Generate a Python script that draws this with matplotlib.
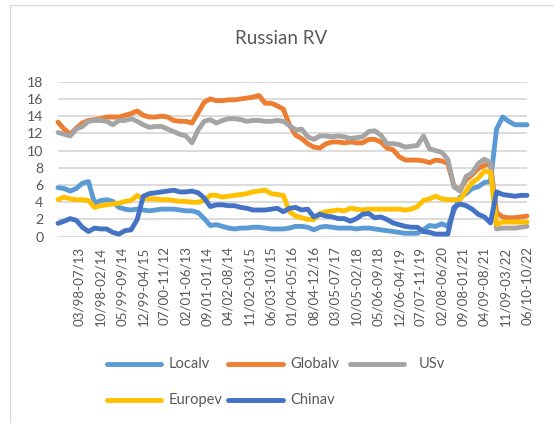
import numpy as np
import matplotlib
matplotlib.use("Agg")
import matplotlib.pyplot as plt
from matplotlib.lines import Line2D

# Rolling-window category labels (one label every 7 monthly windows)
window_labels = [
    "03/98-07/13", "10/98-02/14", "05/99-09/14", "12/99-04/15", "07/00-11/12",
    "02/01-06/13", "09/01-01/14", "04/02-08/14", "11/02-03/15", "06/03-10/15",
    "01/04-05/16", "08/04-12/16", "03/05-07/17", "10/05-02/18", "05/06-09/18",
    "12/06-04/19", "07/07-11/19", "02/08-06/20", "09/08-01/21", "04/09-08/21",
    "11/09-03/22", "06/10-10/22",
]

# Volatility series, sampled every second window
localv = [
    5.7, 5.6, 5.3, 5.6, 6.2, 6.4, 3.9, 4.2, 4.3, 4.1, 3.4, 3.2, 3.1, 3.2, 3.1, 3.0,
    3.1, 3.2, 3.2, 3.2, 3.1, 3.0, 3.0, 2.8, 2.1, 1.3, 1.4, 1.2, 1.0, 0.9, 1.0, 1.0,
    1.1, 1.1, 1.0, 0.9, 0.9, 0.9, 1.0, 1.2, 1.2, 1.1, 0.8, 1.1, 1.2, 1.1, 1.0, 1.0,
    1.0, 0.9, 1.0, 1.0, 0.9, 0.8, 0.7, 0.6, 0.5, 0.4, 0.4, 0.4, 0.8, 1.3, 1.2, 1.5,
    1.2, 3.0, 4.6, 5.0, 5.6, 5.8, 6.3, 6.4, 12.5, 13.9, 13.4, 13.0, 13.0, 13.0,
]
globalv = [
    13.3, 12.5, 11.9, 12.6, 13.2, 13.5, 13.6, 13.7, 13.9, 13.9, 13.9, 14.1, 14.3, 14.6, 14.1, 13.9,
    13.9, 14.0, 13.9, 13.5, 13.4, 13.4, 13.2, 14.4, 15.6, 16.0, 15.8, 15.8, 15.9, 15.9, 16.0, 16.1,
    16.2, 16.4, 15.5, 15.5, 15.2, 14.8, 13.0, 11.8, 11.4, 10.8, 10.4, 10.3, 10.8, 11.0, 11.0, 10.9,
    11.0, 10.9, 10.9, 11.3, 11.3, 11.0, 10.3, 10.1, 9.3, 8.9, 8.9, 8.9, 8.8, 8.6, 8.9, 8.8,
    8.5, 5.9, 5.4, 6.6, 7.2, 7.9, 8.3, 8.5, 2.8, 2.3, 2.2, 2.2, 2.3, 2.4,
]
usv = [
    12.1, 11.9, 11.7, 12.5, 12.8, 13.4, 13.5, 13.5, 13.4, 13.0, 13.5, 13.5, 13.7, 13.4, 13.0, 12.7,
    12.8, 12.8, 12.5, 12.2, 11.9, 11.7, 10.9, 12.4, 13.4, 13.6, 13.2, 13.5, 13.7, 13.7, 13.6, 13.4,
    13.5, 13.5, 13.4, 13.4, 13.5, 13.4, 12.9, 12.4, 12.5, 11.6, 11.3, 11.7, 11.7, 11.6, 11.7, 11.6,
    11.4, 11.5, 11.6, 12.2, 12.3, 11.8, 10.8, 10.8, 10.7, 10.4, 10.5, 10.6, 11.7, 10.2, 10.0, 9.8,
    9.0, 5.8, 5.3, 7.0, 7.4, 8.5, 9.0, 8.6, 0.9, 1.0, 1.0, 1.0, 1.1, 1.2,
]
europev = [
    4.3, 4.6, 4.4, 4.3, 4.3, 4.2, 3.4, 3.6, 3.7, 3.8, 3.9, 4.1, 4.2, 4.8, 4.4, 4.4,
    4.4, 4.3, 4.3, 4.2, 4.1, 4.1, 4.0, 4.0, 4.2, 4.8, 4.8, 4.6, 4.7, 4.8, 4.9, 5.0,
    5.2, 5.3, 5.4, 5.0, 4.9, 4.8, 2.9, 2.4, 2.2, 2.0, 2.0, 2.7, 2.9, 3.0, 3.1, 3.0,
    3.3, 3.2, 3.1, 3.2, 3.2, 3.2, 3.2, 3.2, 3.2, 3.1, 3.2, 3.5, 4.2, 4.4, 4.7, 4.4,
    4.3, 4.3, 4.3, 5.3, 6.3, 6.8, 7.6, 7.5, 1.4, 1.7, 1.7, 1.7, 1.7, 1.7,
]
chinav = [
    1.55, 1.8, 2.1, 1.9, 1.1, 0.6, 1.0, 0.9, 0.9, 0.5, 0.3, 0.7, 0.8, 2.0, 4.7, 5.0,
    5.1, 5.2, 5.3, 5.4, 5.2, 5.2, 5.3, 5.1, 4.5, 3.5, 3.7, 3.7, 3.6, 3.6, 3.4, 3.3,
    3.1, 3.1, 3.1, 3.2, 3.3, 2.9, 3.3, 3.4, 3.1, 3.2, 2.3, 2.6, 2.4, 2.3, 2.1, 2.1,
    1.8, 2.1, 2.6, 2.7, 2.2, 2.3, 2.0, 1.6, 1.4, 1.2, 1.1, 1.1, 0.6, 0.5, 0.3, 0.3,
    0.3, 3.4, 3.8, 3.6, 3.2, 2.6, 2.3, 1.6, 5.2, 4.9, 4.8, 4.7, 4.8, 4.8,
]

series_names = ["Localv", "Globalv", "USv", "Europev", "Chinav"]
series_values = [localv, globalv, usv, europev, chinav]
series_colors = ["#5B9BD5", "#ED7D31", "#A5A5A5", "#FFC000", "#4472C4"]

# window index (months from the first window) for samples and labels
months = np.arange(len(localv)) * 2 + 1
label_months = np.arange(len(window_labels)) * 7 + 8

plt.rcParams["font.family"] = ["Lato", "DejaVu Sans"]
TEXT = "#595959"
W, H = 554, 423
LW = 3.5

fig = plt.figure(figsize=(W / 100, H / 100), dpi=100)
ax = fig.add_axes([58 / W, 1 - 236.7 / H, (527 - 58) / W, (236.7 - 81.7) / H])

for name, vals, col in zip(series_names, series_values, series_colors):
    ax.plot(months, vals, color=col, lw=LW, solid_joinstyle="round",
            solid_capstyle="round", clip_on=False, label=name)

ax.set_xlim(months[0], months[-1])
ax.set_ylim(0, 18)
ax.set_yticks(np.arange(0, 19, 2))
ax.set_xticks(label_months)
ax.set_xticklabels(window_labels, rotation=90, ha="center", va="top")
ax.yaxis.grid(True, color="#D9D9D9", lw=1.3)
ax.set_axisbelow(True)
for s in ax.spines.values():
    s.set_visible(False)
ax.tick_params(axis="y", length=0, pad=10.5, labelsize=10.2, labelcolor=TEXT)
ax.tick_params(axis="x", length=0, pad=7.0, labelsize=9.6, labelcolor=TEXT)

fig.text(281.6 / W, 1 - 38.3 / H, "Russian RV", ha="center", va="center",
         fontsize=13.5, color=TEXT)

# legend in two rows of fixed-width columns
legend_rows = [364, 400]
legend_cols = [(107, 161, 169), (228, 283, 290), (350, 404, 419)]
slots = [(0, 0), (0, 1), (0, 2), (1, 0), (1, 1)]
for (r, c), name, col in zip(slots, series_names, series_colors):
    x0, x1, xt = legend_cols[c]
    y = 1 - legend_rows[r] / H
    fig.add_artist(Line2D([x0 / W, x1 / W], [y, y], transform=fig.transFigure,
                          color=col, lw=LW, solid_capstyle="round"))
    fig.text(xt / W, y, name, ha="left", va="center", fontsize=10.5, color=TEXT)

# chart-area frame
frame = "#D9D9D9"
fig.add_artist(Line2D([9.9 / W, 9.9 / W], [0, 1 - 5 / H], transform=fig.transFigure,
                      color=frame, lw=0.9))
fig.add_artist(Line2D([9.9 / W, 1], [1 - 5 / H, 1 - 5 / H], transform=fig.transFigure,
                      color=frame, lw=0.9))

fig.savefig("out.png", dpi=100)
